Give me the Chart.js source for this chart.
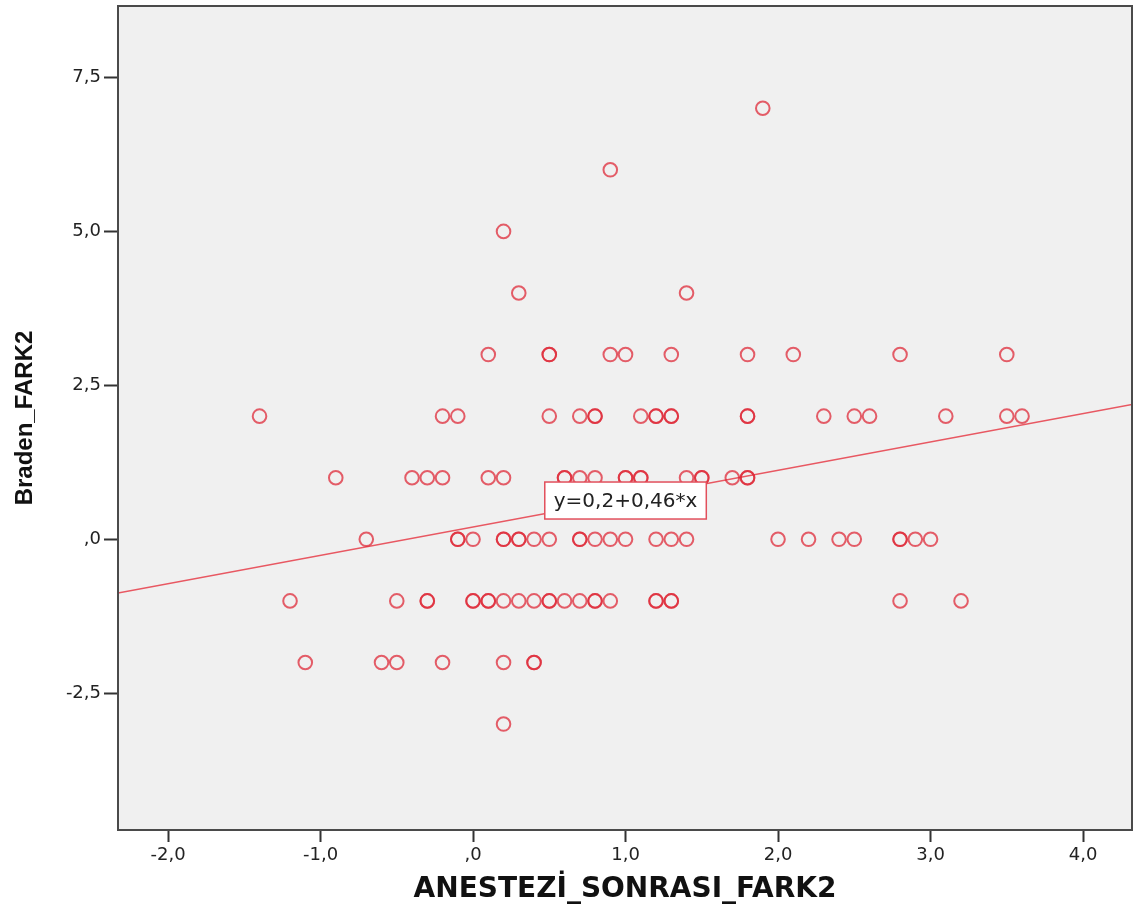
<!DOCTYPE html>
<html>
<head>
<meta charset="utf-8">
<script src="https://cdn.jsdelivr.net/npm/chart.js@4.4.0/dist/chart.umd.min.js"></script>
<style>
  html, body { margin: 0; padding: 0; background: #ffffff; }
  #wrap { width: 1136px; height: 921px; }
</style>
</head>
<body>
<div id="wrap"><canvas id="c" width="1136" height="921"></canvas></div>
<script>
// ---- Data ----
// x values (ANESTEZİ_SONRASI_FARK2) for each Braden_FARK2 level
const yLevels = [7, 6, 5, 4, 3, 2, 1, 0, -1, -2, -3];
const xAtY7 = [1.9];
const xAtY6 = [0.9];
const xAtY5 = [0.2];
const xAtY4 = [0.3, 1.4];
const xAtY3 = [0.1, 0.5, 0.5, 0.9, 1.0, 1.3, 1.8, 2.1, 2.8, 3.5];
const xAtY2 = [-1.4, -0.2, -0.1, 0.5, 0.7, 0.8, 0.8, 1.1, 1.2, 1.2, 1.3, 1.3, 1.8, 1.8, 2.3, 2.5, 2.6, 3.1, 3.5, 3.6];
const xAtY1 = [-0.9, -0.4, -0.3, -0.2, 0.1, 0.2, 0.6, 0.6, 0.7, 0.8, 1.0, 1.0, 1.1, 1.1, 1.4, 1.5, 1.5, 1.7, 1.8, 1.8];
const xAtY0 = [-0.7, -0.1, -0.1, 0.0, 0.2, 0.2, 0.3, 0.3, 0.4, 0.5, 0.7, 0.7, 0.8, 0.9, 1.0, 1.2, 1.3, 1.4, 2.0, 2.2, 2.4, 2.5, 2.8, 2.8, 2.9, 3.0];
const xAtYm1 = [-1.2, -0.5, -0.3, -0.3, 0.0, 0.0, 0.1, 0.1, 0.2, 0.3, 0.4, 0.5, 0.5, 0.6, 0.7, 0.8, 0.8, 0.9, 1.2, 1.2, 1.3, 1.3, 2.8, 3.2];
const xAtYm2 = [-1.1, -0.6, -0.5, -0.2, 0.2, 0.4, 0.4];
const xAtYm3 = [0.2];
const xByLevel = [xAtY7, xAtY6, xAtY5, xAtY4, xAtY3, xAtY2, xAtY1, xAtY0, xAtYm1, xAtYm2, xAtYm3];

// Fit line y = 0.2 + 0.46*x
const fitIntercept = 0.2;
const fitSlope = 0.46;
const fitLabel = 'y=0,2+0,46*x';
const fitLabelPos = [1.0, 0.63];

// Axes
const xMin = -2.328, xMax = 4.321;
const yMin = -4.72, yMax = 8.66;
const xTickValues = [-2, -1, 0, 1, 2, 3, 4];
const yTickValues = [-2.5, 0, 2.5, 5, 7.5];
const xTitle = 'ANESTEZİ_SONRASI_FARK2';
const yTitle = 'Braden_FARK2';

// ---- Build ----
const scatterPoints = [];
yLevels.forEach((yv, i) => xByLevel[i].forEach(xv => scatterPoints.push({ x: xv, y: yv })));
const fitPoints = [xMin, xMax].map(xv => ({ x: xv, y: fitIntercept + fitSlope * xv }));

function fmt(v) {
  let s = Math.abs(v).toFixed(1).replace('.', ',');
  if (s.startsWith('0,')) s = s.slice(1);
  return (v < 0 ? '-' : '') + s;
}

const RED = 'rgba(222,40,55,0.74)';

const frame = {
  id: 'frame',
  beforeDraw(chart) {
    const { ctx, chartArea: a } = chart;
    ctx.save();
    ctx.fillStyle = '#f0f0f0';
    ctx.fillRect(a.left, a.top, a.right - a.left, a.bottom - a.top);
    ctx.restore();
  },
  afterDraw(chart) {
    const { ctx, chartArea: a, scales } = chart;
    ctx.save();
    ctx.strokeStyle = '#4a4a4a';
    ctx.lineWidth = 2;
    ctx.strokeRect(a.left, a.top, a.right - a.left, a.bottom - a.top);
    // fit label box
    const px = scales.x.getPixelForValue(fitLabelPos[0]);
    const py = scales.y.getPixelForValue(fitLabelPos[1]);
    ctx.font = '20px "DejaVu Sans"';
    const w = ctx.measureText(fitLabel).width + 18;
    const h = 37;
    ctx.fillStyle = '#ffffff';
    ctx.fillRect(px - w / 2, py - h / 2, w, h);
    ctx.strokeStyle = 'rgb(226,80,92)';
    ctx.lineWidth = 1.5;
    ctx.strokeRect(px - w / 2, py - h / 2, w, h);
    ctx.fillStyle = '#222';
    ctx.textAlign = 'center';
    ctx.textBaseline = 'middle';
    ctx.fillText(fitLabel, px, py + 1);
    ctx.restore();
  }
};

new Chart(document.getElementById('c'), {
  type: 'scatter',
  data: {
    datasets: [
      {
        type: 'line',
        data: fitPoints,
        borderColor: 'rgb(232,88,98)',
        borderWidth: 1.5,
        pointRadius: 0,
        fill: false,
        order: 2
      },
      {
        data: scatterPoints,
        pointStyle: 'circle',
        pointRadius: 6.8,
        pointBorderWidth: 2,
        pointBackgroundColor: 'rgba(0,0,0,0)',
        pointBorderColor: RED,
        order: 1
      }
    ]
  },
  options: {
    responsive: false,
    animation: false,
    events: [],
    layout: { autoPadding: false, padding: { left: 0, right: 4, top: 6, bottom: 0 } },
    plugins: { legend: { display: false }, tooltip: { enabled: false } },
    scales: {
      x: {
        type: 'linear',
        min: xMin, max: xMax,
        afterFit(s) { s.height = 91; s.paddingLeft = 0; s.paddingRight = 0; },
        afterBuildTicks(s) { s.ticks = xTickValues.map(v => ({ value: v })); },
        grid: { drawOnChartArea: false, drawTicks: true, tickLength: 12, tickWidth: 2, tickColor: '#333' },
        border: { display: true, color: '#4a4a4a', width: 2 },
        ticks: {
          padding: 3,
          color: '#222',
          font: { family: '"DejaVu Sans"', size: 18 },
          maxRotation: 0,
          callback: v => fmt(v)
        },
        title: {
          display: true,
          text: xTitle,
          color: '#111',
          font: { family: '"DejaVu Sans"', size: 28, weight: 'bold' },
          padding: { top: 0, bottom: 14 }
        }
      },
      y: {
        type: 'linear',
        min: yMin, max: yMax,
        afterFit(s) { s.width = 118; s.paddingTop = 0; s.paddingBottom = 0; },
        afterBuildTicks(s) { s.ticks = yTickValues.map(v => ({ value: v })); },
        grid: { drawOnChartArea: false, drawTicks: true, tickLength: 14, tickWidth: 2, tickColor: '#333' },
        border: { display: true, color: '#4a4a4a', width: 2 },
        ticks: {
          padding: 3,
          color: '#222',
          font: { family: '"DejaVu Sans"', size: 18 },
          callback: v => fmt(v)
        },
        title: {
          display: true,
          text: yTitle,
          color: '#111',
          font: { family: '"Liberation Sans"', size: 24, weight: 'bold' },
          padding: { top: 11, bottom: 0 }
        }
      }
    }
  },
  plugins: [frame]
});
</script>
</body>
</html>
